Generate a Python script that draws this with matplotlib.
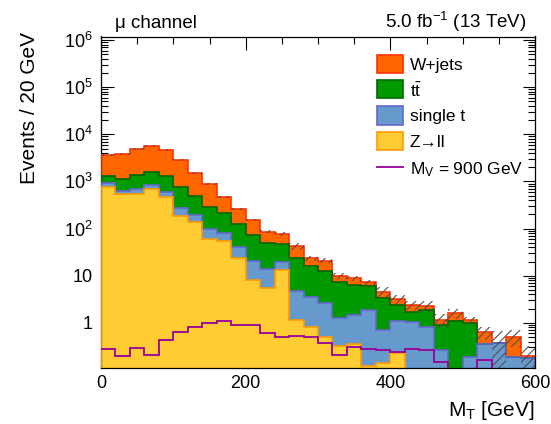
import numpy as np
import matplotlib
matplotlib.use("Agg")
import matplotlib.pyplot as plt
from matplotlib.ticker import FixedLocator, MultipleLocator, FuncFormatter
from matplotlib.patches import Rectangle
from matplotlib.lines import Line2D

plt.rcParams['font.family'] = ['Liberation Sans', 'DejaVu Sans']
plt.rcParams['mathtext.fontset'] = 'custom'
plt.rcParams['mathtext.rm'] = 'Liberation Sans'
plt.rcParams['mathtext.it'] = 'Liberation Sans:italic'
plt.rcParams['hatch.linewidth'] = 0.8

# Binning: 30 bins of 20 GeV in transverse mass
bin_edges = np.arange(0, 620, 20)

# Expected yields per bin for each background process
zll = [773, 533, 533, 677, 474, 185, 140, 59, 55, 24,
       8.1, 5.6, 13.2, 1.16, 0.835, 0.5, 0.326, 0.354, 0.12, 0.14,
       0.228, 0, 0, 0, 0, 0, 0, 0, 0, 0]
single_top = [162, 93, 144, 162, 130, 84, 51, 38, 24.5, 17,
              12.5, 8.1, 6.7, 3.64, 2.77, 2.1, 0.93, 1.13, 1.76, 0.55,
              0.89, 1.05, 0.83, 0.26, 0, 0.19, 0.36, 0.37, 0.19, 0.18]
ttbar = [365, 494, 668, 768, 696, 504, 306, 194, 137.5, 82,
         52.4, 36.3, 27.1, 18.7, 12.8, 10.2, 6.24, 4.92, 4.02, 2.61,
         1.28, 0.65, 1.07, 0.64, 1.07, 0.79, 0, 0, 0, 0]
wjets = [2330, 2740, 3505, 4023, 3330, 2067, 1033, 577, 257, 140,
         79, 36, 30, 19.2, 7.1, 8.2, 2.4, 2.45, 1.4, 1.3,
         0.8, 0.7, 0.4, 0.26, 0.53, 0.16, 0.27, 0, 0.32, 0.02]

# Total background uncertainty per bin
bkg_unc = [180, 190, 240, 280, 230, 140, 80, 45, 25, 14,
           8, 5, 9, 6.9, 2.9, 2.5, 1.4, 1.05, 0.8, 1.1,
           0.7, 0.5, 0.6, 0.4, 0.38, 0.22, 0.2, 0.3, 0.2, 0.12]

# Signal prediction, M_V = 900 GeV
signal = [0.277, 0.2, 0.29, 0.21, 0.436, 0.65, 0.81, 1.01, 1.1, 0.92,
          0.92, 0.6, 0.5, 0.53, 0.5, 0.37, 0.21, 0.305, 0.277, 0.26,
          0.243, 0.28, 0.27, 0.15, 0.1, 0.1, 0.16, 0.1, 0.1, 0.1]

process_labels = ["W+jets", r"$\mathrm{t\bar{t}}$", "single t", "Z\u2192ll"]
signal_label = r"M$_\mathrm{V}$ = 900 GeV"

y_tick_values = [1, 10, 1e2, 1e3, 1e4, 1e5, 1e6]
x_tick_values = [0, 200, 400, 600]

fill_colors = {"zll": "#FFCC33", "st": "#6699CC", "tt": "#009900", "wj": "#FF6600"}
edge_colors = {"zll": "#FF9900", "st": "#6666CC", "tt": "#006600", "wj": "#FF3300"}

W, H = 551, 424
fig = plt.figure(figsize=(W / 100, H / 100), dpi=100)
ax = fig.add_axes([101 / W, 1 - 368 / H, 434 / W, (368 - 36.5) / H])

ymin, ymax = 0.11, 1.19e6
floor = 1e-3

c_zll = np.array(zll, float)
c_st = c_zll + np.array(single_top, float)
c_tt = c_st + np.array(ttbar, float)
c_wj = c_tt + np.array(wjets, float)

# Stacked histogram: draw cumulative totals from the top down
for key, cum in [("wj", c_wj), ("tt", c_tt), ("st", c_st), ("zll", c_zll)]:
    vals = np.maximum(cum, floor)
    ax.stairs(vals, bin_edges, baseline=floor, fill=True,
              facecolor=fill_colors[key], edgecolor='none', zorder=2)
for key, cum in [("wj", c_wj), ("tt", c_tt), ("st", c_st), ("zll", c_zll)]:
    vals = np.maximum(cum, floor)
    ax.stairs(vals, bin_edges, baseline=floor, fill=False,
              edgecolor=edge_colors[key], linewidth=1.2, zorder=3)

# Uncertainty band on the total background
unc = np.array(bkg_unc, float)
upper = c_wj + unc
lower = np.maximum(c_wj - unc, floor)
ax.stairs(upper, bin_edges, baseline=lower, fill=True, facecolor='none',
          edgecolor='#505050', linewidth=0, hatch='////', zorder=4)

# Signal
ax.stairs(np.array(signal, float), bin_edges, baseline=None, fill=False,
          edgecolor='#990099', linewidth=1.3, zorder=5)

ax.set_yscale('log')
ax.set_ylim(ymin, ymax)
ax.set_xlim(bin_edges[0], bin_edges[-1])

def ylab(v, pos):
    if v == 1:
        return "1"
    if v == 10:
        return "10"
    return r"$\mathregular{10^{%d}}$" % int(round(np.log10(v)))

ax.yaxis.set_major_locator(FixedLocator(y_tick_values))
ax.yaxis.set_major_formatter(FuncFormatter(ylab))
minor = [m * 10.0 ** e for e in range(-1, 6) for m in range(2, 10)]
ax.yaxis.set_minor_locator(FixedLocator(minor))
ax.xaxis.set_major_locator(FixedLocator(x_tick_values))
ax.xaxis.set_minor_locator(MultipleLocator(50))

ax.tick_params(which='both', direction='in', top=True, right=True,
               labelsize=13, width=0.8)
ax.tick_params(which='major', length=9)
ax.tick_params(which='minor', length=5)
ax.tick_params(axis='y', pad=6)
ax.tick_params(axis='x', pad=5)
for s in ax.spines.values():
    s.set_linewidth(0.9)

# Axis titles
fig.text(30 / W, 1 - 32 / H, "Events / 20 GeV", rotation=90,
         ha='center', va='top', fontsize=15)
fig.text(535 / W, 1 - 416 / H, r"M$_\mathrm{T}$ [GeV]",
         ha='right', va='baseline', fontsize=15)

# Header
fig.text(115 / W, 1 - 28 / H, "\u03bc channel", ha='left', va='baseline',
         fontsize=13.5)
fig.text(527 / W, 1 - 28 / H, r"5.0 fb$^{-1}$ (13 TeV)", ha='right',
         va='baseline', fontsize=13.5)

# Legend
box_x0, box_w, box_h = 377, 26, 18
row_y = [64, 89, 115.5, 141, 167]
legend_keys = ["wj", "tt", "st", "zll"]
for key, lab, yc in zip(legend_keys, process_labels, row_y[:4]):
    fig.patches.append(Rectangle((box_x0 / W, 1 - (yc + box_h / 2) / H),
                                 box_w / W, box_h / H,
                                 transform=fig.transFigure,
                                 facecolor=fill_colors[key],
                                 edgecolor=edge_colors[key], linewidth=1.2))
    fig.text(410 / W, 1 - yc / H, lab, ha='left', va='center_baseline',
             fontsize=12.5)
yc = row_y[4]
fig.lines.append(Line2D([box_x0 / W, (box_x0 + box_w) / W],
                        [1 - yc / H, 1 - yc / H], transform=fig.transFigure,
                        color='#990099', linewidth=1.3))
fig.text(410 / W, 1 - yc / H, signal_label, ha='left',
         va='center_baseline', fontsize=12.5)

fig.savefig("out.png", dpi=100)
